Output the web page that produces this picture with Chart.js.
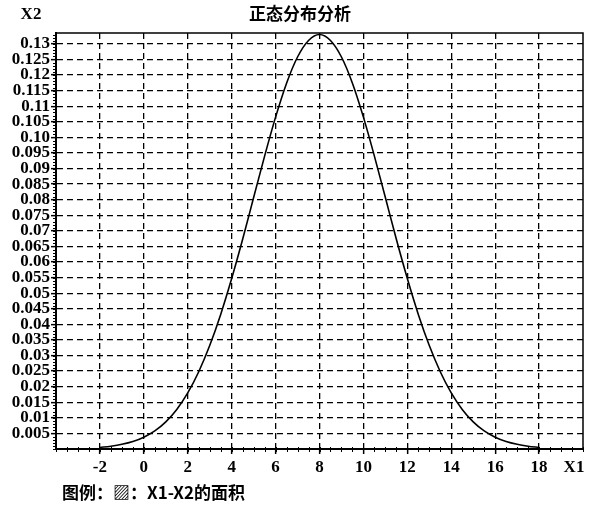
<!DOCTYPE html>
<html>
<head>
<meta charset="utf-8">
<script src="https://cdn.jsdelivr.net/npm/chart.js@4/dist/chart.umd.min.js"></script>
<style>
html,body{margin:0;padding:0;background:#fff;}
canvas{display:block;}
</style>
</head>
<body>
<canvas id="c" width="600" height="507"></canvas>
<script>
const chartTitle = "正态分布分析";
const xAxisName = "X1";
const yAxisName = "X2";
const legendText = "图例：▨：X1-X2的面积";

const xValues = [-2,-1.5,-1,-0.5,0,0.5,1,1.5,2,2.5,3,3.5,4,4.5,5,5.5,6,6.5,7,7.5,8,
  8.5,9,9.5,10,10.5,11,11.5,12,12.5,13,13.5,14,14.5,15,15.5,16,16.5,17,17.5,18];
const yValues = [0.0005,0.0009,0.0015,0.0024,0.0038,0.0058,0.0087,0.0127,0.0180,0.0248,0.0332,0.0432,0.0547,0.0673,0.0807,0.0940,0.1065,0.1174,0.1258,0.1311,0.1330,
  0.1311,0.1258,0.1174,0.1065,0.0940,0.0807,0.0673,0.0547,0.0432,0.0332,0.0248,0.0180,0.0127,0.0087,0.0058,0.0038,0.0024,0.0015,0.0009,0.0005];

const xTickValues = [-2,0,2,4,6,8,10,12,14,16,18];
const xTickLabels = ["-2","0","2","4","6","8","10","12","14","16","18"];
const yTickValues = [0.005,0.01,0.015,0.02,0.025,0.03,0.035,0.04,0.045,0.05,0.055,0.06,0.065,0.07,0.075,0.08,0.085,0.09,0.095,0.1,0.105,0.11,0.115,0.12,0.125,0.13];
const yTickLabels = ["0.005","0.01","0.015","0.02","0.025","0.03","0.035","0.04","0.045","0.05","0.055","0.06","0.065","0.07","0.075","0.08","0.085","0.09","0.095","0.10","0.105","0.11","0.115","0.12","0.125","0.13"];
const xMinorStep = 0.5;
const yMinorStep = 0.001;

const serif = '"Liberation Serif", "DejaVu Serif", serif';
const cjk = '"Noto Sans CJK SC", "Noto Sans", sans-serif';

const extras = {
  id: 'extras',
  afterDraw(chart) {
    const ctx = chart.ctx;
    const a = chart.chartArea;
    const xs = chart.scales.x, ys = chart.scales.y;
    ctx.save();
    ctx.strokeStyle = '#000';
    ctx.lineWidth = 1.5;
    ctx.beginPath();
    ctx.moveTo(a.left, a.top); ctx.lineTo(a.right, a.top); ctx.lineTo(a.right, a.bottom);
    ctx.stroke();
    ctx.lineWidth = 1;
    ctx.beginPath();
    for (let v = xs.min; v <= xs.max + 1e-9; v += xMinorStep) {
      const px = Math.round(xs.getPixelForValue(v)) + 0.5;
      ctx.moveTo(px, a.bottom - 2); ctx.lineTo(px, a.bottom + 3);
    }
    for (let v = ys.min; v <= ys.max + 1e-9; v += yMinorStep) {
      const py = Math.round(ys.getPixelForValue(v)) + 0.5;
      ctx.moveTo(a.left - 3, py); ctx.lineTo(a.left, py);
    }
    ctx.stroke();
    ctx.fillStyle = '#000';
    ctx.textBaseline = 'middle';
    ctx.textAlign = 'center';
    ctx.font = 'bold 17px ' + cjk;
    ctx.fillText(chartTitle, 300, 14);
    ctx.font = 'bold 17px ' + serif;
    ctx.fillText(yAxisName, 31, 15);
    ctx.fillText(xAxisName, 574, 468);
    ctx.textAlign = 'left';
    ctx.font = 'bold 17px ' + cjk;
    ctx.fillText(legendText, 62, 493);
    ctx.restore();
  }
};

new Chart(document.getElementById('c'), {
  type: 'line',
  data: {
    datasets: [{
      data: xValues.map((x, i) => ({x: x, y: yValues[i]})),
      borderColor: '#000',
      borderWidth: 1.6,
      pointRadius: 0,
      fill: false,
      cubicInterpolationMode: 'monotone'
    }]
  },
  options: {
    responsive: false,
    animation: false,
    layout: {padding: {left: 0, right: 17, top: 33, bottom: 28}},
    plugins: {legend: {display: false}, title: {display: false}, tooltip: {enabled: false}},
    scales: {
      x: {
        type: 'linear',
        min: -4, max: 20,
        afterBuildTicks: s => { s.ticks = xTickValues.map(v => ({value: v})); },
        afterFit: s => { s.height = 30; },
        ticks: {
          autoSkip: false, maxRotation: 0, padding: 3, color: '#000',
          font: {family: serif, size: 17, weight: 'bold'},
          callback: (v, i) => xTickLabels[i]
        },
        grid: {color: '#000', lineWidth: 1.3, tickLength: 5, tickColor: '#000', tickWidth: 1.5},
        border: {display: true, color: '#000', width: 2, dash: [6, 4]}
      },
      y: {
        type: 'linear',
        min: 0, max: 0.1335,
        afterBuildTicks: s => { s.ticks = yTickValues.map(v => ({value: v})); },
        afterFit: s => { s.width = 56; },
        ticks: {
          autoSkip: false, padding: 1, color: '#000',
          font: {family: serif, size: 17, weight: 'bold'},
          callback: (v, i) => yTickLabels[i]
        },
        grid: {color: '#000', lineWidth: 1.3, tickLength: 5, tickColor: '#000', tickWidth: 1.5},
        border: {display: true, color: '#000', width: 2, dash: [6, 4]}
      }
    }
  },
  plugins: [extras]
});
</script>
</body>
</html>
